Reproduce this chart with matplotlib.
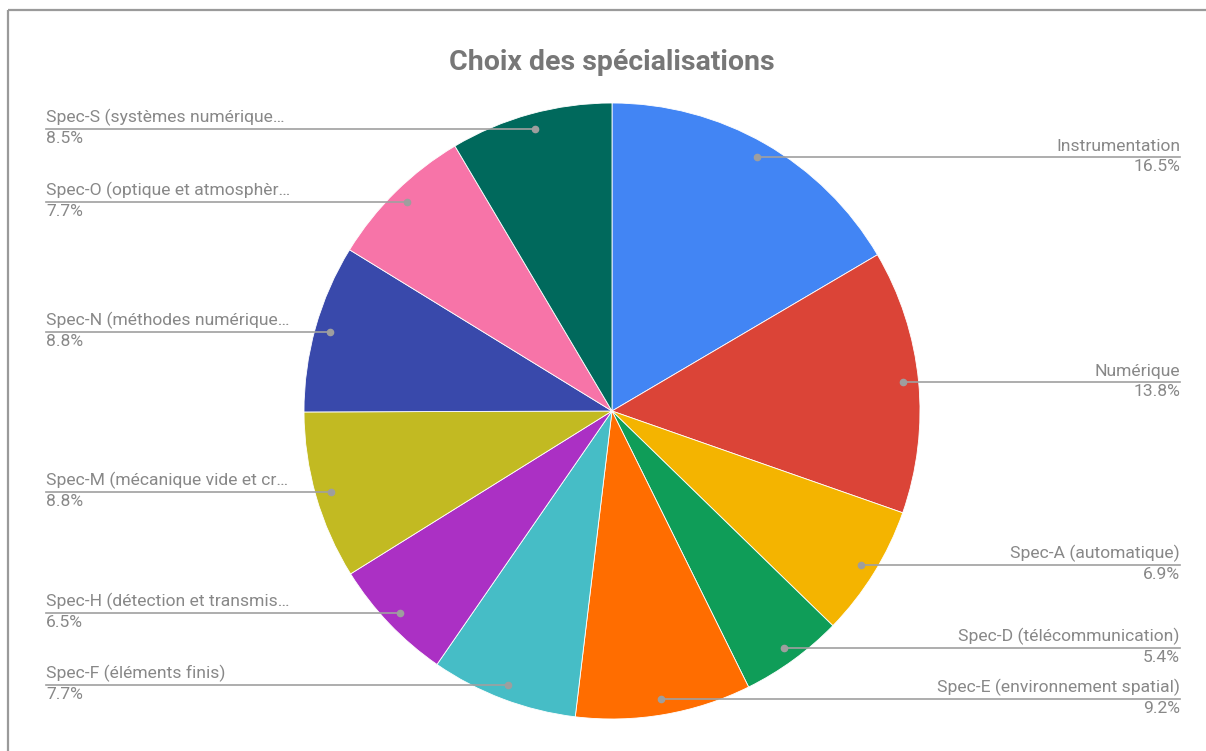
import numpy as np
import matplotlib
matplotlib.use("Agg")
import matplotlib.pyplot as plt

plt.rcParams['font.family'] = ['Roboto', 'DejaVu Sans']

labels = [
    "Instrumentation",
    "Numérique",
    "Spec-A (automatique)",
    "Spec-D (télécommunication)",
    "Spec-E (environnement spatial)",
    "Spec-F (éléments finis)",
    "Spec-H (détection et transmis…",
    "Spec-M (mécanique vide et cr…",
    "Spec-N (méthodes numérique…",
    "Spec-O (optique et atmosphèr…",
    "Spec-S (systèmes numérique…",
]
values = [16.5, 13.8, 6.9, 5.4, 9.2, 7.7, 6.5, 8.8, 8.8, 7.7, 8.5]
colors = ["#4285F4", "#DB4437", "#F4B400", "#0F9D58", "#FF6D00", "#46BDC6",
          "#AB30C4", "#C2BA22", "#3949AB", "#F774A8", "#00695C"]
title = "Choix des spécialisations"

W, H = 1206, 751
fig = plt.figure(figsize=(W / 100, H / 100), dpi=100)

cx, cy, r = 612, 411, 308
ax = fig.add_axes([(cx - r) / W, (H - cy - r) / H, 2 * r / W, 2 * r / H])
wedges, _ = ax.pie(values, colors=colors, startangle=90, counterclock=False,
                   radius=1, wedgeprops=dict(edgecolor="white", linewidth=0.6))
ax.set_xlim(-1, 1)
ax.set_ylim(-1, 1)
ax.set_aspect("equal")
ax.axis("off")

ov = fig.add_axes([0, 0, 1, 1], zorder=5)
ov.set_xlim(0, W)
ov.set_ylim(H, 0)
ov.axis("off")
ov.patch.set_alpha(0)

# border
ov.plot([8, W], [10, 10], color="#9a9a9a", lw=1.6, solid_capstyle="butt")
ov.plot([8, 8], [10, H], color="#9a9a9a", lw=1.6, solid_capstyle="butt")

ov.text(cx, 63, title, ha="center", va="center", fontsize=20.5,
        fontweight="bold", color="#777777")

txt_col = "#888888"
line_col = "#a0a0a0"
fs = 12.6
to_ov = ov.transData.inverted()
for w, lab, v in zip(wedges, labels, values):
    mid = np.deg2rad((w.theta1 + w.theta2) / 2)
    px, py = to_ov.transform(ax.transData.transform((0.95 * np.cos(mid), 0.95 * np.sin(mid))))
    if px >= cx:
        x_end, ha = 1180, "right"
        ov.plot([px, x_end], [py, py], color=line_col, lw=1.2)
    else:
        x_end, ha = 46, "left"
        ov.plot([x_end, px], [py, py], color=line_col, lw=1.2)
    ov.text(x_end, py - 3, lab, ha=ha, va="bottom", fontsize=fs, color=txt_col)
    ov.text(x_end, py + 2, f"{v:.1f}%", ha=ha, va="top", fontsize=fs, color=txt_col)
    ov.plot([px], [py], "o", color="#9e9e9e", ms=4.5)

fig.savefig("out.png", dpi=100, facecolor="white")
